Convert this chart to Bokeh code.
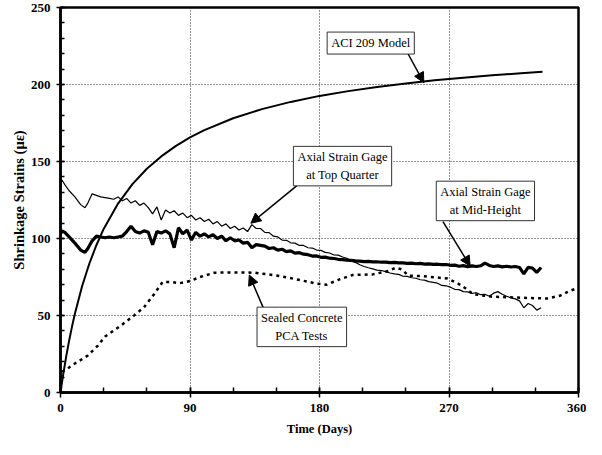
from bokeh.plotting import figure
from bokeh.models import Range1d, SingleIntervalTicker, Label, Arrow, NormalHead
from bokeh.embed import file_html
from bokeh.resources import INLINE

# ---------------- data ----------------
ACI_DAYS = [0, 1, 2, 4, 6, 8, 10, 15, 20, 25, 30, 40, 50, 60, 70, 80, 90, 100,
            120, 140, 160, 180, 200, 220, 240, 260, 280, 300, 320, 335]
ACI_STRAIN = [0, 6.4, 12.4, 23.6, 33.7, 42.8, 51.1, 69.0, 83.6, 95.8, 106.2, 122.7,
              135.3, 145.3, 153.3, 160.0, 165.6, 170.4, 178.1, 184.0, 188.7, 192.6,
              195.7, 198.4, 200.7, 202.7, 204.4, 206.0, 207.3, 208.2]

GAGE_DAYS = [0, 1, 3, 6, 10, 14, 17, 19, 22, 25, 28, 31, 34, 37,
             40, 43, 46, 49, 52, 55, 58, 61, 64, 67, 70, 73, 76, 79, 82, 85, 88, 91, 94, 97,
             100, 103, 106, 109, 112, 115, 118, 121, 124, 127, 130, 133, 136, 139, 142, 145,
             148, 151, 154, 157, 160, 163, 166, 169, 172, 175, 178, 181, 184, 187, 190, 193,
             196, 199, 202, 205, 208, 211, 214, 217, 220, 223, 226, 229, 232, 235, 238, 241,
             244, 247, 250, 253, 256, 259, 262, 265, 268, 271, 274, 277, 280, 283, 286, 289,
             292, 295, 298, 301, 304, 307, 310, 313, 316, 319, 322, 325, 328, 331, 334]

TOP_QUARTER = [134, 138, 135, 131, 127, 122, 120, 123, 129, 128, 127, 126.5, 126, 125.5,
               127, 124.5, 126, 123, 124.5, 121.5, 123, 120, 116, 120.5, 112, 118.5, 116.5, 118,
               115, 116.5, 113.5, 115, 112, 113.5,
               111, 112.5, 109.5, 111, 108, 109.5, 106.5, 108, 105.5, 106.8, 104.5, 109, 106.5,
               106.5, 104, 103.8,
               101.5, 101, 99, 98.8, 97.2, 97, 95.5, 95.5, 94, 93.8, 92.5, 92.3, 91, 90.6, 89.3,
               89.2,
               88, 87.2, 85.5, 84.5, 83, 81.8, 81, 80.3, 79.5, 79.2, 78.5, 77.6, 77, 76.7, 75.5,
               75.4,
               74.5, 74.2, 73.2, 73, 72, 71.5, 71, 69.5, 69.3, 68.4, 67, 66.8, 65.5, 65.3, 64.3,
               64.8,
               63.5, 63.8, 62.5, 64.5, 65.5, 63.8, 62.5, 61.5, 60.8, 59.5, 55, 57.8, 56.5, 53.5, 55]

MID_HEIGHT = [103, 105, 104, 101, 97, 92.5, 91, 93.5, 98.5, 101.5, 101, 100.5, 101, 100.5,
              101, 101.5, 104.5, 108, 104.5, 103.5, 105, 104, 96, 104.5, 103.5, 105, 103, 94,
              107, 103, 105.5, 99, 104, 101.5,
              103, 101, 102.5, 100, 101.5, 98.5, 100.5, 98.5, 99, 97, 97.5, 94, 96, 95.5, 95,
              93.5,
              94, 92.5, 93, 91.5, 92, 90.5, 90.8, 89.8, 89.5, 88.6, 88.7, 87.8, 87.9, 87.2, 87.0,
              86.5,
              86.3, 86.0, 85.8, 85.5, 85.3, 85.0, 85.2, 84.8, 84.9, 84.6, 84.7, 84.3, 84.5, 84.2,
              84.2, 83.9,
              84.0, 83.6, 83.8, 83.4, 83.5, 83.2, 83.3, 83.0, 83.1, 82.6, 82.7, 82.0, 82.4, 81.7,
              82.2, 81.8,
              82.3, 84.0, 82.5, 81.8, 82.2, 81.6, 82.0, 81.5, 81.8, 81.2, 77.0, 81.3, 80.8, 78.0,
              81.2]

PCA_DAYS = [1, 3.4, 10, 19, 26, 31, 42, 51, 58, 65, 71, 76, 83, 90, 97, 107, 120, 135,
            150, 164, 178, 185, 194, 203, 217, 228, 233, 237, 242, 251, 260, 269, 278, 287,
            300, 315, 338, 347, 354, 360]
PCA_STRAIN = [13.5, 14.6, 18.8, 24.0, 30.5, 36.4, 43.5, 49.9, 55.3, 63.8, 71.8, 71.8, 71.0,
              72.4, 75.0, 77.8, 78.0, 77.8, 76.0, 73.5, 70.7, 70.0, 73.5, 76.3, 76.7, 78.9,
              81.0, 80.0, 75.8, 75.6, 74.8, 74.0, 69.9, 63.8, 62.2, 61.7, 61.0, 62.8, 66.0,
              68.0]

X_TICK_STEP = 90
Y_TICK_STEP = 50

SERIF = "'Liberation Serif', 'Times New Roman', serif"

p = figure(width=586, height=439, output_backend="svg", toolbar_location=None,
           x_range=Range1d(0, 360), y_range=Range1d(0, 250),
           min_border_left=60, min_border_right=8, min_border_top=7, min_border_bottom=47)
p.background_fill_color = "white"
p.border_fill_color = "white"
p.outline_line_color = "black"
p.outline_line_width = 2.5

# axes
p.xaxis.ticker = SingleIntervalTicker(interval=X_TICK_STEP, num_minor_ticks=3)
p.yaxis.ticker = SingleIntervalTicker(interval=Y_TICK_STEP, num_minor_ticks=5)
for ax in (p.xaxis, p.yaxis):
    ax.axis_line_width = 2.5
    ax.axis_line_color = "black"
    ax.major_tick_line_color = "black"
    ax.major_tick_line_width = 1.5
    ax.minor_tick_line_color = "black"
    ax.minor_tick_line_width = 1.5
    ax.major_label_text_font = SERIF
    ax.major_label_text_font_style = "bold"
    ax.major_label_text_font_size = "13px"
    ax.major_label_text_color = "black"
    ax.axis_label_text_font = SERIF
    ax.axis_label_text_font_style = "bold"
    ax.axis_label_text_color = "black"

p.xaxis.major_tick_in = 5
p.xaxis.major_tick_out = 5
p.xaxis.minor_tick_in = 5
p.xaxis.minor_tick_out = 0
p.xaxis.major_label_standoff = 6
p.xaxis.axis_label = "Time (Days)"
p.xaxis.axis_label_text_font_size = "12.5px"
p.xaxis.axis_label_standoff = 7

p.yaxis.major_tick_in = 4
p.yaxis.major_tick_out = 4
p.yaxis.minor_tick_in = 4
p.yaxis.minor_tick_out = 0
p.yaxis.major_label_standoff = 6
p.yaxis.axis_label = "Shrinkage Strains (με)"
p.yaxis.axis_label_text_font_size = "14.5px"
p.yaxis.axis_label_standoff = 1

# grid
for g in (p.xgrid, p.ygrid):
    g.grid_line_color = "#222222"
    g.grid_line_width = 1
    g.grid_line_dash = "1 2"

# curves
p.line(ACI_DAYS, ACI_STRAIN, line_color="black", line_width=2)
p.line(PCA_DAYS, PCA_STRAIN, line_color="black", line_width=2.5, line_dash="3 4")
p.line(GAGE_DAYS, TOP_QUARTER, line_color="black", line_width=1.2)
p.line(GAGE_DAYS, MID_HEIGHT, line_color="black", line_width=3.2)

# annotations
arrows = [
    (241.6, 219.8, 252.5, 201.2),
    (164.3, 134.3, 132.3, 109.9),
    (265.8, 111.0, 284.7, 82.1),
    (140.8, 55.3, 131.2, 76.3),
]
for xs, ys, xe, ye in arrows:
    p.add_layout(Arrow(end=NormalHead(size=10, fill_color="black", line_color="black"),
                       x_start=xs, y_start=ys, x_end=xe, y_end=ye,
                       line_color="black", line_width=1.5))

labels = [
    (215.6, 226.9, "ACI 209 Model"),
    (196.0, 147.0, "Axial Strain Gage\nat Top Quarter"),
    (295.3, 124.4, "Axial Strain Gage\nat Mid-Height"),
    (167.7, 42.6, "Sealed Concrete\nPCA Tests"),
]
for lx, ly, txt in labels:
    p.add_layout(Label(x=lx, y=ly, text=txt, text_align="center", text_baseline="middle",
                       text_font=SERIF, text_font_size="12.5px", text_color="black",
                       text_line_height=1.25,
                       background_fill_color="white", border_line_color="#333333",
                       border_line_width=1, padding=4))

open("out.html", "w").write(file_html(p, INLINE))
